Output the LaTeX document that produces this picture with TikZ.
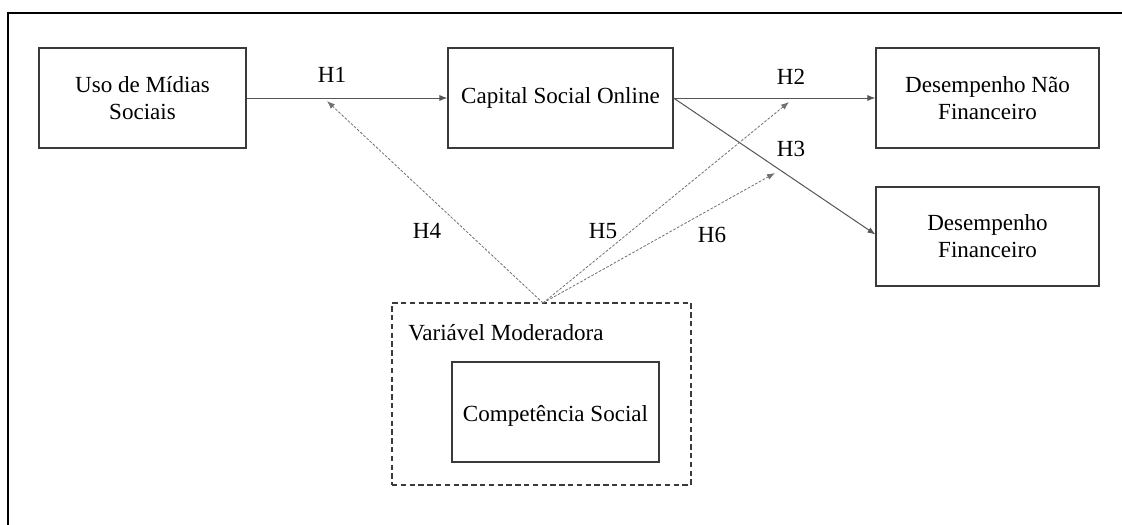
\documentclass[tikz,border=0pt]{standalone}
\usepackage{fontspec}
\setmainfont{Liberation Serif}
\usetikzlibrary{arrows.meta}
\definecolor{boxline}{HTML}{3A3A3A}
\definecolor{arrowline}{HTML}{555555}
\definecolor{dotline}{HTML}{707070}
\begin{document}
\begin{tikzpicture}[x=0.75pt,y=-0.75pt,
  every node/.style={font=\fontsize{17.3}{20.3}\selectfont, text=black},
  construct/.style={draw=boxline, line width=0.8pt, rectangle, align=center, inner sep=0pt},
  tip/.style={-{Latex[length=6pt,width=4.5pt]}},
  effect/.style={tip, draw=arrowline, line width=0.75pt},
  moderation/.style={tip, draw=dotline, line width=0.6pt, dash pattern=on 2pt off 1.2pt},
  hyp/.style={inner sep=0pt}
]
\useasboundingbox (0,0) rectangle (1122,525);
% outer frame (top and left rules)
\draw[line width=1.1pt, black] (8,525) -- (8,13) -- (1122,13);

% constructs
\node[construct, minimum width=207*0.75pt, minimum height=100*0.75pt] (uso) at (142.5,98) {Uso de Mídias\\Sociais};
\node[construct, minimum width=225*0.75pt, minimum height=100*0.75pt] (cap) at (560.5,98) {Capital Social Online};
\node[construct, minimum width=223*0.75pt, minimum height=100*0.75pt] (dnf) at (987.5,98) {Desempenho Não\\Financeiro};
\node[construct, minimum width=223*0.75pt, minimum height=99*0.75pt] (dfin) at (987.5,236.5) {Desempenho\\Financeiro};

% moderator group
\node[draw=boxline, line width=0.8pt, dash pattern=on 4pt off 2.6pt, rectangle,
      minimum width=299*0.75pt, minimum height=182*0.75pt, inner sep=0pt] (mod) at (541.5,394) {};
\node[anchor=west, inner sep=0pt] (modlbl) at (408,333) {Variável Moderadora};
\node[construct, minimum width=207*0.75pt, minimum height=100*0.75pt,
      label={[yshift=-3pt]center:Competência Social}] (comp) at (555.5,412) {};

% moderation targets
\coordinate (apex) at (543,303);
\coordinate (t4) at (327,101);
\coordinate (t5) at (789,102);
\coordinate (t6) at (775,173);

% direct effects
\draw[effect] (uso.east) -- (cap.west);
\draw[effect] (cap.east) -- (dnf.west);
\draw[effect] (cap.east) -- ([yshift=1.5pt]dfin.west);

% moderating effects
\draw[moderation] (apex) -- (t4);
\draw[moderation] (apex) -- (t5);
\draw[moderation] (apex) -- (t6);

% hypothesis labels
\node[hyp] (h1) at (332,75) {H1};
\node[hyp] (h2) at (791,77) {H2};
\node[hyp] (h3) at (791,149) {H3};
\node[hyp] (h4) at (427,231) {H4};
\node[hyp] (h5) at (603,231) {H5};
\node[hyp] (h6) at (712,235) {H6};
\end{tikzpicture}
\end{document}
